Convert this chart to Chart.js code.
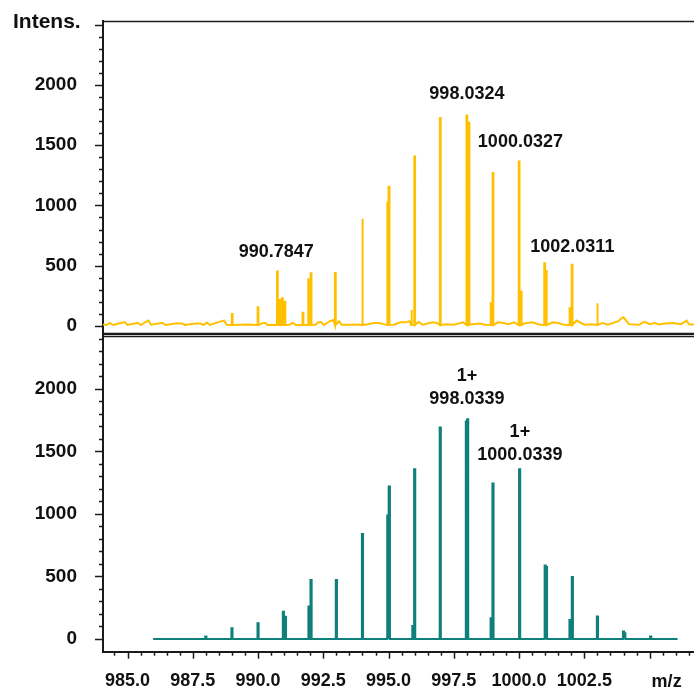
<!DOCTYPE html>
<html>
<head>
<meta charset="utf-8">
<script src="https://cdn.jsdelivr.net/npm/chart.js@4.4.0/dist/chart.umd.min.js"></script>
<style>
  html, body { margin: 0; padding: 0; background: #fff; }
  #wrap { position: relative; width: 694px; height: 693px; overflow: hidden; }
  .panel { position: absolute; left: 0; width: 694px; }
  #topPanel { top: 0; height: 335px; }
  #bottomPanel { top: 335px; height: 358px; }
</style>
</head>
<body>
<div id="wrap">
  <div class="panel" id="topPanel"><canvas id="chartExp"></canvas></div>
  <div class="panel" id="bottomPanel"><canvas id="chartSim"></canvas></div>
</div>
<script>
// measured spectrum (top, yellow): sticks + baseline noise
const expPeakMz  = [989.01, 990.0, 990.74, 990.84, 990.93, 991.03, 991.72, 991.94, 992.03, 992.96,
                    994.0, 994.97, 995.02, 995.88, 996.0, 996.98, 998.0, 998.08, 998.93, 999.0,
                    1000.0, 1000.08, 1000.98, 1001.05, 1001.95, 1002.03, 1003.0];
const expPeakInt = [100, 155, 451, 215, 230, 200, 110, 388, 438, 440,
                    889, 1022, 1155, 133, 1406, 1725, 1747, 1686, 189, 1268,
                    1365, 285, 521, 465, 147, 507, 189];
const expNoiseMz  = [984.06, 984.2, 984.32, 984.45, 984.85, 984.9, 985.0, 985.35, 985.4, 985.5,
                     985.72, 985.8, 985.9, 986.3, 986.35, 986.45, 986.9, 987.0, 987.1, 987.2,
                     987.6, 987.7, 987.8, 987.9, 988.04, 988.15, 988.6, 988.7, 988.8, 989.3,
                     989.6, 990.2, 990.28, 990.36, 990.6, 991.2, 991.33, 991.45, 992.2, 992.3,
                     992.42, 992.52, 992.75, 992.88, 993.1, 993.2, 993.5, 993.8, 994.2, 994.45,
                     994.65, 994.8, 995.2, 995.45, 995.65, 995.8, 996.15, 996.3, 996.7, 996.85,
                     997.2, 997.5, 997.85, 998.2, 998.5, 998.7, 999.2, 999.4, 999.6, 999.8,
                     1000.2, 1000.5, 1000.8, 1001.3, 1001.5, 1001.7, 1002.2, 1002.5, 1002.8, 1003.2,
                     1003.4, 1003.8, 1003.92, 1004.0, 1004.08, 1004.2, 1004.6, 1004.75, 1004.85, 1005.0,
                     1005.2, 1005.35, 1005.6, 1005.9, 1006.2, 1006.42, 1006.5, 1006.6, 1006.7];
const expNoiseInt = [12, 8, 25, 8, 30, 30, 8, 25, 25, 8,
                     35, 45, 10, 25, 25, 8, 22, 20, 20, 8,
                     20, 20, 20, 8, 28, 8, 40, 44, 10, 10,
                     12, 25, 25, 8, 10, 10, 25, 8, 10, 30,
                     30, 8, 40, 50, 40, 10, 10, 12, 15, 25,
                     25, 15, 10, 30, 30, 40, 35, 10, 30, 25,
                     15, 10, 30, 15, 20, 10, 30, 25, 15, 30,
                     20, 30, 10, 30, 25, 10, 45, 10, 15, 25,
                     10, 40, 64, 72, 50, 15, 10, 30, 30, 15,
                     25, 12, 20, 25, 15, 45, 15, 12, 12];

// simulated isotope pattern (bottom, teal)
const simPeakMz  = [988.0, 989.0, 990.0, 990.97, 991.05, 991.95, 992.03, 993.0, 994.0, 994.97,
                    995.03, 995.93, 996.0, 996.98, 997.98, 998.03, 998.93, 999.0, 1000.02, 1001.0,
                    1001.05, 1001.95, 1002.04, 1003.0, 1004.0, 1004.05, 1005.04];
const simPeakInt = [19, 85, 125, 218, 178, 259, 472, 472, 840, 987,
                    1219, 104, 1357, 1691, 1739, 1757, 165, 1243, 1357, 587,
                    575, 152, 496, 179, 59, 45, 19];
const simBaseMz  = [985.98, 1006.07];
const simBaseInt = [0, 0];

// peak annotations
const expLabelText = ['990.7847', '998.0324', '1000.0327', '1002.0311'];
const expLabelMz   = [990.7, 998.0, 1000.05, 1002.04];
const expLabelAt   = [615, 1920, 1530, 655];
const simLabelText = [['1+', '998.0339'], ['1+', '1000.0339']];
const simLabelMz   = [998.0, 1000.03];
const simLabelAt   = [2010, 1565];

// axes
const mzMin = 984.06;
const mzMax = 1006.7;
const mzStep = 0.5;
const mzLabelStep = 2.5;
const mzLabelMax = 1002.5;
const expYMin = -75;
const expYMax = 2530;
const simYMin = -102;
const simYMax = 2424;
const yStep = 100;
const yLabelStep = 500;
const yLabelMax = 2000;

const FONT = '"Liberation Sans", Arial, sans-serif';
Chart.defaults.font.family = FONT;

function buildProfile(peakMz, peakInt, baseMz, baseInt, halfWidth, level) {
  const groups = [];
  baseMz.forEach((m, i) => groups.push([{ x: m, y: baseInt[i] }]));
  peakMz.forEach((m, i) => {
    groups.push([
      { x: m - halfWidth, y: level },
      { x: m - halfWidth, y: peakInt[i] },
      { x: m + halfWidth, y: peakInt[i] },
      { x: m + halfWidth, y: level }
    ]);
  });
  groups.sort((a, b) => a[0].x - b[0].x);
  return groups.flat();
}

function isMultiple(v, step) {
  const q = v / step;
  return Math.abs(q - Math.round(q)) < 1e-6;
}

const frame = {
  id: 'frame',
  afterDraw(chart, args, opts) {
    const { ctx, chartArea: a, scales } = chart;
    const xs = scales.x;
    const ys = scales.y;
    ctx.save();
    ctx.strokeStyle = '#1a1a1a';
    ctx.lineWidth = 1.5;

    ys.ticks.forEach(t => {
      const py = Math.round(ys.getPixelForValue(t.value)) + 0.5;
      const len = isMultiple(t.value, yLabelStep) ? 8 : 4;
      ctx.beginPath();
      ctx.moveTo(a.left - len, py);
      ctx.lineTo(a.left, py);
      ctx.stroke();
    });

    if (opts.xTicks) {
      xs.ticks.forEach(t => {
        const px = Math.round(xs.getPixelForValue(t.value)) + 0.5;
        const len = isMultiple(t.value, mzLabelStep) ? 7 : 4;
        ctx.beginPath();
        ctx.moveTo(px, a.bottom);
        ctx.lineTo(px, a.bottom + len);
        ctx.stroke();
      });
      ctx.fillStyle = '#111';
      ctx.font = 'bold 18px ' + FONT;
      ctx.textAlign = 'center';
      ctx.textBaseline = 'middle';
      ctx.fillText('m/z', xs.getPixelForValue(1005) + 17, a.bottom + 30);
    }

    if (opts.topLine) {
      ctx.lineWidth = 1.5;
      ctx.beginPath();
      ctx.moveTo(a.left, a.top + 0.5);
      ctx.lineTo(a.right, a.top + 0.5);
      ctx.stroke();
    }
    if (opts.bottomLine) {
      ctx.lineWidth = 2.5;
      ctx.beginPath();
      ctx.moveTo(a.left, a.bottom - 1);
      ctx.lineTo(a.right, a.bottom - 1);
      ctx.stroke();
    }
    if (opts.title) {
      ctx.fillStyle = '#111';
      ctx.font = 'bold 21px ' + FONT;
      ctx.textAlign = 'left';
      ctx.textBaseline = 'middle';
      ctx.fillText(opts.title, 13, 22);
    }

    ctx.fillStyle = '#111';
    ctx.font = 'bold 18px ' + FONT;
    ctx.textAlign = 'center';
    ctx.textBaseline = 'middle';
    (opts.labels || []).forEach(l => {
      const px = xs.getPixelForValue(l.mz);
      const py = ys.getPixelForValue(l.at);
      const lines = Array.isArray(l.text) ? l.text : [l.text];
      lines.forEach((s, k) => {
        ctx.fillText(s, px, py + (k - (lines.length - 1) / 2) * 23.5);
      });
    });
    ctx.restore();
  }
};

function yAxis(min, max) {
  return {
    min: min,
    max: max,
    border: { display: true, color: '#1a1a1a', width: 2 },
    grid: { display: false, drawTicks: false },
    ticks: {
      autoSkip: false,
      padding: 26,
      color: '#111',
      font: { size: 19, weight: 'bold' },
      callback: v => (isMultiple(v, yLabelStep) && v <= yLabelMax ? String(v) : '')
    },
    afterBuildTicks(s) {
      const ticks = [];
      for (let v = 0; v <= max; v += yStep) ticks.push({ value: v });
      s.ticks = ticks;
    },
    afterFit(s) {
      s.width = 103;
      s.paddingTop = 0;
      s.paddingBottom = 0;
    }
  };
}

const ctxExp = document.getElementById('chartExp');
new Chart(ctxExp, {
  type: 'line',
  data: {
    datasets: [
      {
        label: 'Experimental',
        data: buildProfile(expPeakMz, expPeakInt, expNoiseMz, expNoiseInt, 0.015, 8),
        borderColor: '#ffc000',
        borderWidth: 2,
        pointRadius: 0,
        tension: 0,
        fill: false
      }
    ]
  },
  options: {
    responsive: true,
    maintainAspectRatio: false,
    animation: false,
    layout: { padding: { top: 21, right: 0, bottom: 0, left: 0 } },
    plugins: {
      legend: { display: false },
      tooltip: { enabled: false },
      frame: {
        topLine: true,
        bottomLine: true,
        title: 'Intens.',
        labels: expLabelText.map((t, i) => ({ text: t, mz: expLabelMz[i], at: expLabelAt[i] }))
      }
    },
    scales: {
      x: { type: 'linear', min: mzMin, max: mzMax, display: false },
      y: yAxis(expYMin, expYMax)
    }
  },
  plugins: [frame]
});

const ctxSim = document.getElementById('chartSim');
new Chart(ctxSim, {
  type: 'line',
  data: {
    datasets: [
      {
        label: 'Simulated',
        data: buildProfile(simPeakMz, simPeakInt, simBaseMz, simBaseInt, 0.022, 0),
        borderColor: '#0f7f7b',
        borderWidth: 2,
        pointRadius: 0,
        tension: 0,
        fill: false
      }
    ]
  },
  options: {
    responsive: true,
    maintainAspectRatio: false,
    animation: false,
    layout: { padding: { top: 1, right: 0, bottom: 0, left: 0 } },
    plugins: {
      legend: { display: false },
      tooltip: { enabled: false },
      frame: {
        xTicks: true,
        topLine: true,
        labels: simLabelText.map((t, i) => ({ text: t, mz: simLabelMz[i], at: simLabelAt[i] }))
      }
    },
    scales: {
      x: {
        type: 'linear',
        min: mzMin,
        max: mzMax,
        border: { display: true, color: '#1a1a1a', width: 2 },
        grid: { display: false, drawTicks: false },
        ticks: {
          autoSkip: false,
          maxRotation: 0,
          padding: 19,
          color: '#111',
          font: { size: 18, weight: 'bold' },
          callback: v => (isMultiple(v, mzLabelStep) && v <= mzLabelMax ? v.toFixed(1) : '')
        },
        afterBuildTicks(s) {
          const ticks = [];
          for (let k = Math.ceil(mzMin / mzStep); k * mzStep <= mzMax; k++) {
            ticks.push({ value: k * mzStep });
          }
          s.ticks = ticks;
        },
        afterFit(s) {
          s.height = 41.3;
          s.paddingLeft = 0;
          s.paddingRight = 0;
        }
      },
      y: yAxis(simYMin, simYMax)
    }
  },
  plugins: [frame]
});
</script>
</body>
</html>
